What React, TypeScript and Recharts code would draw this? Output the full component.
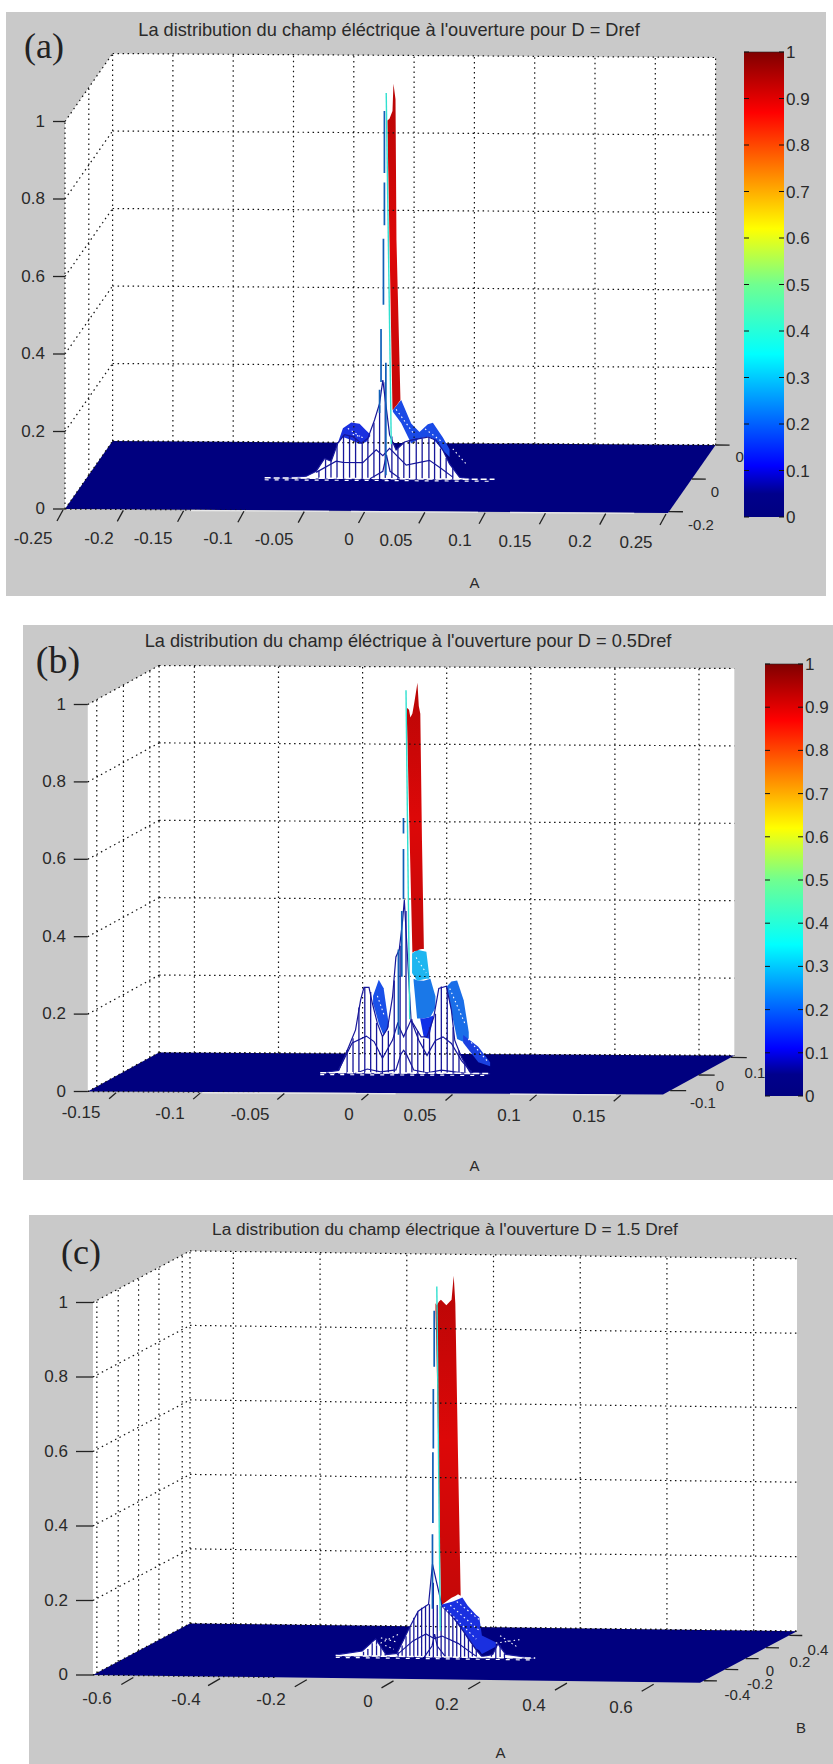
import { Area, ComposedChart, Line, XAxis, YAxis } from 'recharts'

// values: A and z of the centre cut through each surface
const zTicks = [0, 0.2, 0.4, 0.6, 0.8, 1]
const colorTicks = [0, 0.1, 0.2, 0.3, 0.4, 0.5, 0.6, 0.7, 0.8, 0.9, 1]
const jetValues = [0, 0.05, 0.11, 0.35, 0.5, 0.62, 0.87, 1]
const jetColors = ['#000080', '#00008c', '#0000ff', '#00ffff', '#70ff90', '#ffff00', '#ff0000', '#800000']

// panel a
const aTicksA = [-0.25, -0.2, -0.15, -0.1, -0.05, 0, 0.05, 0.1, 0.15, 0.2, 0.25]
const aTickLabels = ['-0.25', '-0.2', '-0.15', '-0.1', '-0.05', '0', '0.05', '0.1', '0.15', '0.2', '0.25']
const aWallB = [0, 0.5, 1]
const aFrontA = [-0.103, -0.0907, -0.0685, -0.0603, -0.0533, -0.0478, -0.0423, -0.0368, -0.0298, -0.0229, -0.0174, -0.0119, -0.0077, -0.005, 0.0006, 0.006, 0.013, 0.0185, 0.0254, 0.0323, 0.0392, 0.0448, 0.0503, 0.0586, 0.0697, 0.0876]
const aFrontZ = [0, 0, 0.006, 0.019, 0.052, 0.045, 0.092, 0.114, 0.109, 0.092, 0.105, 0.152, 0.195, 0.255, 0.114, 0.075, 0.096, 0.101, 0.105, 0.109, 0.101, 0.075, 0.04, 0.006, 0, 0]
const aMidA = [-0.0603, -0.0437, -0.0381, -0.0216, -0.0105, -0.005, 0.0006, 0.0144, 0.0337, 0.0434, 0.053]
const aMidZ = [0.016, 0.045, 0.042, 0.042, 0.075, 0.06, 0.079, 0.036, 0.049, 0.028, 0.006]
const aLowA = [-0.016, -0.005, -0.002, 0.001, 0.01]
const aLowZ = [0, 0.02, 0.062, 0.02, 0]
const aHatchA = [-0.058, -0.0525, -0.048, -0.043, -0.0376, -0.0326, -0.0276, -0.0221, -0.0174, -0.0124, -0.0077, -0.003, 0.0025, 0.0075, 0.0124, 0.0171, 0.0227, 0.0276, 0.0332, 0.0379, 0.0428, 0.0475, 0.053]
const aHatchZ = [0.02, 0.05, 0.045, 0.09, 0.112, 0.11, 0.105, 0.095, 0.105, 0.145, 0.19, 0.25, 0.11, 0.08, 0.095, 0.1, 0.105, 0.105, 0.108, 0.102, 0.08, 0.055, 0.03]
const aRedA = [-0.0012, 0.0005, 0.003, 0.0038, 0.0055, 0.0063, 0.0096]
const aRedLow = [0.919, 0.617, 0.178, 0.18, 0.187, 0.19, 0.204]
const aRedHigh = [0.925, 0.93, 0.95, 1.02, 0.98, 0.617, 0.204]
const aLobeLeftA = [-0.0423, -0.0381, -0.0312, -0.0243, -0.0188, -0.0155]
const aLobeLeftLow = [0.092, 0.108, 0.1, 0.09, 0.095, 0.11]
const aLobeLeftHigh = [0.092, 0.13, 0.145, 0.142, 0.125, 0.115]
const aLobeRightA = [0.0033, 0.0102, 0.0185, 0.0254, 0.0323, 0.0365, 0.0448, 0.0503]
const aLobeRightLow = [0.174, 0.145, 0.092, 0.105, 0.11, 0.105, 0.075, 0.058]
const aLobeRightHigh = [0.178, 0.204, 0.144, 0.122, 0.142, 0.146, 0.108, 0.078]
const aStreakA = [-0.0037, -0.0037, null, -0.0037, -0.0037, null, -0.0045, -0.0045, null, -0.0065, -0.0065, null, -0.0077, -0.0077, null, -0.0025, -0.0025]
const aStreakZ = [0.79, 0.95, null, 0.655, 0.765, null, 0.45, 0.62, null, 0.25, 0.387, null, 0.17, 0.23, null, 0.01, 0.3]
const aCyanA = [-0.0022, 0.002]
const aCyanZ = [0.996, 0.09]
const aSpeckA = [0.006, 0.02, null, 0.03, 0.045, null, -0.034, -0.024, null, -0.03, -0.02, null, 0.053, 0.0641]
const aSpeckZ = [0.18, 0.12, null, 0.13, 0.095, null, 0.13, 0.11, null, 0.115, 0.105, null, 0.079, 0.04]
const aEdgeA = [-0.1455, -0.031, null, -0.0129, 0.0925, null, 0.119, 0.222]

// panel b
const bTicksA = [-0.15, -0.1, -0.05, 0, 0.05, 0.1, 0.15]
const bTickLabels = ['-0.15', '-0.1', '-0.05', '0', '0.05', '0.1', '0.15']
const bWallB = [0.126, 0.5, 0.87]
const bFrontA = [-0.054, -0.043, -0.037, -0.033, -0.03, -0.028, -0.025, -0.023, -0.02, -0.017, -0.014, -0.011, -0.009, -0.007, -0.005, -0.004, 0, 0.006, 0.0095, 0.0135, 0.0165, 0.021, 0.024, 0.026, 0.03, 0.035, 0.047]
const bFrontZ = [0, 0.007, 0.069, 0.112, 0.189, 0.222, 0.222, 0.181, 0.129, 0.095, 0.116, 0.198, 0.301, 0.32, 0.396, 0.448, 0.138, 0.095, 0.095, 0.146, 0.22, 0.226, 0.164, 0.086, 0.043, 0.004, 0]
const bMidA = [-0.043, -0.035, -0.0266, -0.022, -0.017, -0.011, -0.008, -0.0044, 0, 0.0046, 0.0095, 0.0145, 0.019, 0.024, 0.03, 0.036]
const bMidZ = [0.009, 0.078, 0.096, 0.082, 0.039, 0.086, 0.129, 0.095, 0.138, 0.086, 0.047, 0.086, 0.095, 0.078, 0.034, 0.004]
const bLowA = [-0.033, -0.026, -0.018, -0.009, -0.006, -0.0044, -0.0028, 0.0016, 0.0095, 0.018, 0.027, 0.035]
const bLowZ = [0, 0.011, 0.004, 0.009, 0.05, 0.06, 0.05, 0.009, 0.002, 0.009, 0.004, 0]
const bHatchA = [-0.038, -0.0345, -0.031, -0.0275, -0.024, -0.0205, -0.017, -0.0135, -0.01, -0.0065, -0.003, 0.0005, 0.004, 0.0075, 0.011, 0.0145, 0.018, 0.0215, 0.025, 0.0285, 0.032, 0.0355]
const bHatchZ = [0.06, 0.09, 0.17, 0.222, 0.21, 0.13, 0.095, 0.11, 0.24, 0.33, 0.42, 0.14, 0.11, 0.09, 0.12, 0.155, 0.225, 0.22, 0.12, 0.06, 0.03, 0.01]
const bRedA = [-0.0025, -0.0012, -0.0004, 0.0008, 0.002, 0.0038, 0.0046, 0.0055, 0.0065, 0.0076]
const bRedLow = [0.924, 0.68, 0.53, 0.312, 0.316, 0.318, 0.32, 0.321, 0.322, 0.322]
const bRedHigh = [0.945, 0.94, 0.92, 0.93, 0.96, 1.01, 0.95, 0.93, 0.6, 0.33]
const bLobeLeftA = [-0.0226, -0.0192, -0.0163, -0.0133]
const bLobeLeftLow = [0.181, 0.129, 0.098, 0.12]
const bLobeLeftHigh = [0.2, 0.242, 0.22, 0.129]
const bCyanBandA = [0.0006, 0.0036, 0.0091, 0.0109]
const bCyanBandLow = [0.26, 0.24, 0.245, 0.245]
const bCyanBandHigh = [0.31, 0.32, 0.315, 0.25]
const bMidBandA = [0.0015, 0.0036, 0.0075, 0.0115, 0.0145]
const bMidBandLow = [0.24, 0.142, 0.142, 0.146, 0.17]
const bMidBandHigh = [0.245, 0.241, 0.24, 0.245, 0.2]
const bDeepBandA = [0.0055, 0.0075, 0.0105, 0.0131]
const bDeepBandLow = [0.14, 0.095, 0.09, 0.14]
const bDeepBandHigh = [0.143, 0.142, 0.145, 0.15]
const bLobeRightA = [0.0214, 0.024, 0.0274, 0.0313, 0.0343]
const bLobeRightLow = [0.22, 0.16, 0.09, 0.082, 0.085]
const bLobeRightHigh = [0.226, 0.238, 0.241, 0.19, 0.108]
const bTailA = [0.031, 0.04, 0.047]
const bTailLow = [0.08, 0.03, 0.02]
const bTailHigh = [0.1, 0.07, 0.03]
const bStreakA = [-0.0045, -0.0045, null, -0.0045, -0.0045, null, -0.0055, -0.0055, null, -0.0075, -0.0075]
const bStreakZ = [0.62, 0.66, null, 0.45, 0.58, null, 0.25, 0.42, null, 0.1, 0.32]
const bCyanA = [-0.003, -0.0008]
const bCyanZ = [0.99, 0.14]
const bSpeckA = [0.023, 0.032, null, -0.02, -0.016, null, 0.034, 0.046, null, 0.003, 0.009]
const bSpeckZ = [0.22, 0.13, null, 0.2, 0.15, null, 0.09, 0.03, null, 0.3, 0.26]
const bEdgeA = [-0.103, -0.0115, null, -0.024, 0.012, null, 0.08, 0.143]

// panel c
const cTicksA = [-0.6, -0.4, -0.2, 0, 0.2, 0.4, 0.6]
const cTickLabels = ['-0.6', '-0.4', '-0.2', '0', '0.2', '0.4', '0.6']
const cWallB = [0.04, 0.26, 0.47, 0.68, 0.92]
const cFrontA = [-0.234, -0.173, -0.142, -0.118, -0.093, -0.063, -0.044, -0.02, -0.011, 0.011, 0.036, 0.06, 0.091, 0.103, 0.128, 0.14, 0.158, 0.226]
const cFrontZ = [0.003, 0.014, 0.047, 0.005, 0.009, 0.081, 0.123, 0.142, 0.25, 0.137, 0.109, 0.071, 0.019, 0.003, 0.009, 0.038, 0.01, 0]
const cMidA = [-0.093, -0.056, -0.026, -0.007, 0.011, 0.048, 0.091]
const cMidZ = [0.005, 0.043, 0.062, 0.05, 0.057, 0.038, 0.003]
const cLowA = [-0.03, -0.012, -0.006, 0, 0.02]
const cLowZ = [0, 0.03, 0.062, 0.03, 0]
const cHatchA = [-0.17, -0.16, -0.15, -0.14, -0.13, -0.12, -0.09, -0.081, -0.072, -0.063, -0.054, -0.045, -0.036, -0.027, -0.018, -0.009, 0, 0.009, 0.018, 0.027, 0.036, 0.045, 0.054, 0.063, 0.072, 0.081, 0.09, 0.125, 0.135, 0.145, 0.155]
const cHatchZ = [0.012, 0.02, 0.035, 0.045, 0.03, 0.008, 0.012, 0.03, 0.055, 0.08, 0.105, 0.122, 0.132, 0.138, 0.142, 0.2, 0.14, 0.137, 0.13, 0.12, 0.11, 0.095, 0.08, 0.065, 0.05, 0.035, 0.02, 0.01, 0.03, 0.035, 0.012]
const cRedA = [-0.004, -0.001, 0.004, 0.0086, 0.021, 0.033, 0.038, 0.0417, 0.048, 0.054]
const cRedLow = [0.93, 0.775, 0.457, 0.139, 0.15, 0.16, 0.163, 0.165, 0.17, 0.166]
const cRedHigh = [0.95, 0.945, 0.955, 0.96, 0.945, 0.96, 1.025, 0.95, 0.536, 0.17]
const cLobeRightA = [0.011, 0.036, 0.058, 0.07, 0.09, 0.097, 0.103, 0.135]
const cLobeRightLow = [0.137, 0.106, 0.075, 0.05, 0.024, 0.02, 0.01, 0.03]
const cLobeRightHigh = [0.142, 0.15, 0.161, 0.14, 0.115, 0.109, 0.06, 0.042]
const cStreakA = [-0.007, -0.007, null, -0.009, -0.009, null, -0.01, -0.01, null, -0.011, -0.011]
const cStreakZ = [0.78, 0.93, null, 0.56, 0.72, null, 0.36, 0.55, null, 0.13, 0.33]
const cCyanA = [-0.001, 0.007]
const cCyanZ = [0.995, 0.071]
const cSpeckA = [0.015, 0.09, null, 0.03, 0.1, null, 0.045, 0.105, null, -0.14, -0.09, null, -0.13, -0.095, null, 0.135, 0.19, null, 0.145, 0.185, null, -0.12, -0.1]
const cSpeckZ = [0.135, 0.05, null, 0.14, 0.07, null, 0.15, 0.095, null, 0.03, 0.06, null, 0.05, 0.04, null, 0.04, 0.05, null, 0.06, 0.03, null, 0.03, 0.02]
const cEdgeA: (number | null)[] = []

type Band = { a: number[]; low: number[]; high: number[]; fill: string }
type PanelProps = {
  id: string
  letter: string
  title: string
  box: { left: number; top: number; width: number; height: number }
  titleBox: { x: number; y: number; size: number }
  letterBox: { x: number; y: number; size: number }
  axisLabels: { text: string; x: number; y: number }[]
  front: { x0: number; aScale: number; y0: number; zScale: number; skewX: number; skewY: number; tilt: number; aMin: number; aMax: number; plane: number }
  ticksA: number[]
  tickLabels: string[]
  labelX: number[]
  labelY: number[]
  tickFrom: number[]
  tickTo: number[]
  zLabelRight: number
  zTickLen: number
  wallB: number[]
  tickB: number[]
  bTickLen: number
  bLabels: { text: string; x: number; y: number }[]
  frontA: number[]
  frontZ: number[]
  midA: number[]
  midZ: number[]
  lowA: number[]
  lowZ: number[]
  hatchA: number[]
  hatchZ: number[]
  red: { a: number[]; low: number[]; high: number[] }
  bands: Band[]
  streakA: (number | null)[]
  streakZ: (number | null)[]
  cyanA: number[]
  cyanZ: number[]
  speckA: (number | null)[]
  speckZ: (number | null)[]
  edgeA: (number | null)[]
  baseA: number[]
}

const FONT = '"Liberation Sans", Arial, sans-serif'
const TEXT = '#2a2a2a'
const NAVY = '#00007f'
const MESH = '#17179a'

function Colorbar({ id, left, top, width, height }: { id: string; left: number; top: number; width: number; height: number }) {
  const pad = 12
  return (
    <div style={{ position: 'absolute', left, top: top - pad }}>
      <ComposedChart width={width + 50} height={height + pad * 2} data={[{ x: 0, v: 1 }, { x: 1, v: 1 }]} margin={{ top: pad, bottom: pad, left: 0, right: 0 }}>
        <defs>
          <linearGradient id={id} x1="0" y1="1" x2="0" y2="0">
            {jetValues.map((v, i) => (
              <stop key={v} offset={v} stopColor={jetColors[i]} />
            ))}
          </linearGradient>
        </defs>
        <XAxis type="number" dataKey="x" domain={[0, 1]} hide />
        <YAxis
          orientation="right"
          width={50}
          domain={[0, 1]}
          ticks={colorTicks}
          interval={0}
          axisLine={false}
          tickLine={false}
          tickSize={0}
          tickMargin={0}
          tick={(p: any) => (
            <g>
              <line x1={p.x - 5} x2={p.x} y1={p.y} y2={p.y} stroke="#111" />
              <line x1={p.x - width} x2={p.x - width + 5} y1={p.y} y2={p.y} stroke="#111" />
              <text x={p.x + 2} y={p.y + 6} fontSize={17} fontFamily={FONT} fill={TEXT}>
                {p.payload.value}
              </text>
            </g>
          )}
        />
        <Area dataKey="v" baseValue={0} stroke="#222" strokeWidth={0.6} fill={`url(#${id})`} fillOpacity={1} isAnimationActive={false} dot={false} activeDot={false} />
      </ComposedChart>
    </div>
  )
}

function Panel(p: PanelProps) {
  const { box, front: f } = p
  const tiltAt = (a: number) => ((a - f.aMin) / (f.aMax - f.aMin)) * f.tilt
  // chart units: x is A on the front edge, y is z on the front-left corner; depth shifts both
  const project = (a: number, b: number, z: number) => ({
    x: a + (b * f.skewX) / f.aScale,
    y: z + (b * f.skewY) / f.zScale - tiltAt(a) / f.zScale,
  })
  const xDomain = [(box.left - f.x0) / f.aScale, (box.left + box.width - f.x0) / f.aScale]
  const yDomain = [(f.y0 - (box.top + box.height)) / f.zScale, (f.y0 - box.top) / f.zScale]
  const flPx = f.x0 + f.aMin * f.aScale - box.left

  const segs = (list: [number, number, number][][]) => {
    const out: { x: number; y: number | null }[] = []
    list.forEach((pts) => {
      pts.forEach(([a, b, z]) => out.push(project(a, b, z)))
      const last = project(pts[pts.length - 1][0], pts[pts.length - 1][1], pts[pts.length - 1][2])
      out.push({ x: last.x, y: null })
    })
    return out
  }
  const cut = (as: (number | null)[], zs: (number | null)[]) =>
    as.map((a, i) => {
      if (a === null || zs[i] === null) {
        const prev = as[i - 1] as number
        return { x: project(prev, f.plane, 0).x, y: null }
      }
      return project(a, f.plane, zs[i] as number)
    })
  const band = (as: number[], lows: number[], highs: number[]) =>
    as.map((a, i) => {
      const lo = project(a, f.plane, lows[i])
      const hi = project(a, f.plane, highs[i])
      return { x: lo.x, range: [lo.y, hi.y] }
    })

  const skewA = f.skewX / f.aScale
  const blA = f.aMin + skewA
  const wall = [
    { x: f.aMin, range: [project(f.aMin, 0, 0).y, project(f.aMin, 0, 1).y] },
    { x: blA, range: [project(f.aMin, 1, 0).y, project(f.aMin, 1, 1).y] },
    { x: f.aMax + skewA, range: [project(f.aMax, 1, 0).y, project(f.aMax, 1, 1).y] },
  ]
  const floor = [
    { x: f.aMin, range: [project(f.aMin, 0, 0).y, project(f.aMin, 0, 0).y] },
    { x: blA, range: [project(blA, 0, 0).y, project(f.aMin, 1, 0).y] },
    { x: f.aMax, range: [project(f.aMax, 0, 0).y, project(f.aMax - skewA, 1, 0).y] },
    { x: f.aMax + skewA, range: [project(f.aMax, 1, 0).y, project(f.aMax, 1, 0).y] },
  ]
  const grid = segs([
    ...p.ticksA.map((a) => [[a, 1, 0], [a, 1, 1]] as [number, number, number][]),
    ...zTicks.map((z) => [[f.aMin, 1, z], [f.aMax, 1, z]] as [number, number, number][]),
    ...zTicks.map((z) => [[f.aMin, 0, z], [f.aMin, 1, z]] as [number, number, number][]),
    ...p.wallB.map((b) => [[f.aMin, b, 0], [f.aMin, b, 1]] as [number, number, number][]),
    [[f.aMin, 1, 0], [f.aMin, 1, 1]],
  ])
  const floorGrid = segs([
    [[f.aMin, 0, 0], [f.aMin + (f.aMax - f.aMin) * 0.3, 0, 0]],
    [[f.aMin, 1, 0], [f.aMax, 1, 0]],
  ])
  const bTickMarks = segs(p.tickB.map((b) => [[f.aMax, b, 0], [f.aMax + p.bTickLen / f.aScale, b, 0]] as [number, number, number][]))
  const hatch = segs(p.hatchA.map((a, i) => [[a, f.plane, 0], [a, f.plane, p.hatchZ[i]]] as [number, number, number][]))
  const edge = p.edgeA.map((a, i) => {
    if (a === null) return { x: p.edgeA[i - 1] as number, y: null }
    return { x: a, y: project(a, 0, 0).y - 0.6 / f.zScale }
  })
  const baseDash = p.baseA.map((a) => project(a, f.plane, 0.001))
  const baseDash2 = p.baseA.map((a) => project(a, f.plane, -0.004))
  const line = { isAnimationActive: false, dot: false, activeDot: false, dataKey: 'y', type: 'linear' as const }
  const fillArea = { isAnimationActive: false, dot: false, activeDot: false, dataKey: 'range', type: 'linear' as const, stroke: 'none' }

  return (
    <div style={{ position: 'absolute', left: box.left, top: box.top, width: box.width, height: box.height, background: '#c9c9c9' }}>
      <ComposedChart width={box.width} height={box.height} margin={{ top: 0, right: 0, bottom: -1, left: -1 }}>
        <defs>
          <linearGradient id={`red-${p.id}`} x1="0" y1="0" x2="0" y2="1">
            <stop offset={0} stopColor="#b80606" />
            <stop offset={0.5} stopColor="#dd0808" />
            <stop offset={1} stopColor="#c40808" />
          </linearGradient>
        </defs>
        <XAxis
          type="number"
          dataKey="x"
          scale="linear"
          domain={xDomain}
          allowDataOverflow
          height={1}
          ticks={p.ticksA}
          interval={0}
          axisLine={false}
          tickLine={false}
          tick={(t: any) => {
            const y = f.y0 + tiltAt(t.payload.value) - box.top
            return (
              <g>
                <line x1={t.x + p.tickFrom[0]} y1={y + p.tickFrom[1]} x2={t.x + p.tickTo[0]} y2={y + p.tickTo[1]} stroke="#222" strokeWidth={1.3} />
                <text x={p.labelX[t.index] - box.left} y={p.labelY[t.index] - box.top + 6} textAnchor="middle" fontSize={17} fontFamily={FONT} fill={TEXT}>
                  {p.tickLabels[t.index]}
                </text>
              </g>
            )
          }}
        />
        <YAxis
          type="number"
          scale="linear"
          domain={yDomain}
          allowDataOverflow
          width={1}
          ticks={zTicks}
          interval={0}
          axisLine={false}
          tickLine={false}
          tick={(t: any) => (
            <g>
              <line x1={flPx - p.zTickLen} x2={flPx} y1={t.y} y2={t.y} stroke="#222" strokeWidth={1.3} />
              <text x={p.zLabelRight - box.left} y={t.y + 5} textAnchor="end" fontSize={17} fontFamily={FONT} fill={TEXT}>
                {t.payload.value}
              </text>
            </g>
          )}
        />
        <Area {...fillArea} data={wall} fill="#ffffff" fillOpacity={1} />
        <Line {...line} data={grid} stroke="#111" strokeWidth={1.2} strokeDasharray="1.5 3.5" />
        <Area {...fillArea} data={floor} fill={NAVY} fillOpacity={1} />
        <Line {...line} data={floorGrid} stroke="#111" strokeWidth={1.2} strokeDasharray="1.5 3.5" />
        <Line {...line} data={edge} stroke="#e8e8e8" strokeWidth={1.4} />
        <Line {...line} data={bTickMarks} stroke="#222" strokeWidth={1.3} />
        <Area {...fillArea} data={band(p.frontA, p.frontA.map(() => 0), p.frontZ)} fill="#ffffff" fillOpacity={1} />
        <Line {...line} data={hatch} stroke={MESH} strokeWidth={1.3} />
        <Line {...line} data={cut(p.frontA, p.frontZ)} stroke={MESH} strokeWidth={1.2} />
        <Line {...line} data={cut(p.midA, p.midZ)} stroke={MESH} strokeWidth={1.2} />
        <Line {...line} data={cut(p.lowA, p.lowZ)} stroke={MESH} strokeWidth={1.2} />
        <Line {...line} data={baseDash} stroke="#ffffff" strokeWidth={1.5} strokeDasharray="6 3" />
        <Line {...line} data={baseDash2} stroke="#ffffff" strokeWidth={1.2} strokeDasharray="4 6" />
        {p.bands.map((b, i) => (
          <Area key={i} {...fillArea} data={band(b.a, b.low, b.high)} fill={b.fill} fillOpacity={1} />
        ))}
        <Line {...line} data={cut(p.speckA, p.speckZ)} stroke="#ffffff" strokeWidth={1.1} strokeDasharray="1.5 3" />
        <Area {...fillArea} data={band(p.red.a, p.red.low, p.red.high)} fill={`url(#red-${p.id})`} fillOpacity={1} />
        <Line {...line} data={cut(p.streakA, p.streakZ)} stroke="#1060b8" strokeWidth={1.7} />
        <Line {...line} data={cut(p.cyanA, p.cyanZ)} stroke="#30e0d0" strokeWidth={1.4} />
      </ComposedChart>
      <div style={{ position: 'absolute', left: p.titleBox.x - box.left - 300, top: p.titleBox.y - box.top - 12, width: 600, textAlign: 'center', fontFamily: FONT, fontSize: p.titleBox.size, lineHeight: '24px', color: TEXT, whiteSpace: 'nowrap' }}>
        {p.title}
      </div>
      <div style={{ position: 'absolute', left: p.letterBox.x - box.left - 40, top: p.letterBox.y - box.top - 25, width: 80, textAlign: 'center', fontFamily: '"Liberation Serif", serif', fontSize: p.letterBox.size, lineHeight: '50px', color: '#222' }}>
        {p.letter}
      </div>
      {[...p.axisLabels, ...p.bLabels].map((l) => (
        <div key={l.text + l.x} style={{ position: 'absolute', left: l.x - box.left - 30, top: l.y - box.top - 7, width: 60, textAlign: 'center', fontFamily: FONT, fontSize: 15, lineHeight: '14px', color: TEXT }}>
          {l.text}
        </div>
      ))}
    </div>
  )
}

export default function App() {
  return (
    <div style={{ position: 'absolute', left: 0, top: 0, width: 833, height: 1764, background: '#fff', overflow: 'hidden' }}>
      <Panel
        id="a"
        letter="(a)"
        title="La distribution du champ éléctrique à l'ouverture pour D = Dref"
        box={{ left: 6, top: 12, width: 820, height: 584 }}
        titleBox={{ x: 389, y: 30, size: 18.2 }}
        letterBox={{ x: 44, y: 46, size: 36 }}
        axisLabels={[{ text: 'A', x: 474.5, y: 583 }]}
        front={{ x0: 366.5, aScale: 1206, y0: 509, zScale: 387.5, skewX: 47.6, skewY: 68, tilt: 4, aMin: -0.25, aMax: 0.25, plane: 0.47 }}
        ticksA={aTicksA}
        tickLabels={aTickLabels}
        labelX={[33, 99, 153, 218, 274, 349, 396, 460, 515, 580, 636]}
        labelY={[537.7, 537.7, 537.7, 538, 538.5, 539, 539.5, 540, 540.5, 541, 541.5]}
        tickFrom={[-2, 1]}
        tickTo={[-8, 12]}
        zLabelRight={45}
        zTickLen={12}
        wallB={aWallB}
        tickB={[0.02, 0.5, 1]}
        bTickLen={14}
        bLabels={[
          { text: '-0.2', x: 701, y: 525 },
          { text: '0', x: 715, y: 492 },
          { text: '0.2', x: 746, y: 457 },
        ]}
        frontA={aFrontA}
        frontZ={aFrontZ}
        midA={aMidA}
        midZ={aMidZ}
        lowA={aLowA}
        lowZ={aLowZ}
        hatchA={aHatchA}
        hatchZ={aHatchZ}
        red={{ a: aRedA, low: aRedLow, high: aRedHigh }}
        bands={[
          { a: aLobeLeftA, low: aLobeLeftLow, high: aLobeLeftHigh, fill: '#1a30e0' },
          { a: aLobeRightA, low: aLobeRightLow, high: aLobeRightHigh, fill: '#1a4ae6' },
        ]}
        streakA={aStreakA}
        streakZ={aStreakZ}
        cyanA={aCyanA}
        cyanZ={aCyanZ}
        speckA={aSpeckA}
        speckZ={aSpeckZ}
        edgeA={aEdgeA}
        baseA={[aFrontA[0], aFrontA[aFrontA.length - 1]]}
      />
      <Colorbar id="jet-a" left={744} top={52} width={40} height={465} />

      <Panel
        id="b"
        letter="(b)"
        title="La distribution du champ éléctrique à l'ouverture pour D = 0.5Dref"
        box={{ left: 23, top: 625, width: 810, height: 555 }}
        titleBox={{ x: 408, y: 641, size: 18.2 }}
        letterBox={{ x: 58, y: 660, size: 38 }}
        axisLabels={[{ text: 'A', x: 474.5, y: 1166 }]}
        front={{ x0: 375.4, aScale: 1682, y0: 1091.5, zScale: 387, skewX: 71.3, skewY: 39, tilt: 3, aMin: -0.171, aMax: 0.171, plane: 0.5 }}
        ticksA={bTicksA}
        tickLabels={bTickLabels}
        labelX={[81, 170, 250, 349, 420, 509, 589]}
        labelY={[1111.5, 1113, 1113.6, 1113.6, 1115, 1115, 1116]}
        tickFrom={[-7, 1]}
        tickTo={[-14, 7]}
        zLabelRight={66}
        zTickLen={14}
        wallB={bWallB}
        tickB={[0.1, 0.5, 0.95]}
        bTickLen={16}
        bLabels={[
          { text: '-0.1', x: 703, y: 1102.7 },
          { text: '0', x: 720, y: 1086 },
          { text: '0.1', x: 755, y: 1072.6 },
        ]}
        frontA={bFrontA}
        frontZ={bFrontZ}
        midA={bMidA}
        midZ={bMidZ}
        lowA={bLowA}
        lowZ={bLowZ}
        hatchA={bHatchA}
        hatchZ={bHatchZ}
        red={{ a: bRedA, low: bRedLow, high: bRedHigh }}
        bands={[
          { a: bLobeLeftA, low: bLobeLeftLow, high: bLobeLeftHigh, fill: '#1a50e8' },
          { a: bMidBandA, low: bMidBandLow, high: bMidBandHigh, fill: '#1a78e8' },
          { a: bCyanBandA, low: bCyanBandLow, high: bCyanBandHigh, fill: '#1eb6f0' },
          { a: bDeepBandA, low: bDeepBandLow, high: bDeepBandHigh, fill: '#1030e8' },
          { a: bLobeRightA, low: bLobeRightLow, high: bLobeRightHigh, fill: '#1a6ee8' },
          { a: bTailA, low: bTailLow, high: bTailHigh, fill: '#1a40e0' },
        ]}
        streakA={bStreakA}
        streakZ={bStreakZ}
        cyanA={bCyanA}
        cyanZ={bCyanZ}
        speckA={bSpeckA}
        speckZ={bSpeckZ}
        edgeA={bEdgeA}
        baseA={[bFrontA[0], bFrontA[bFrontA.length - 1]]}
      />
      <Colorbar id="jet-b" left={765} top={664} width={38} height={432} />

      <Panel
        id="c"
        letter="(c)"
        title="La distribution du champ électrique à l'ouverture D = 1.5 Dref"
        box={{ left: 29, top: 1215, width: 804, height: 549 }}
        titleBox={{ x: 445, y: 1229.4, size: 17.3 }}
        letterBox={{ x: 81, y: 1252, size: 36 }}
        axisLabels={[
          { text: 'B', x: 801, y: 1727.7 },
          { text: 'A', x: 500.5, y: 1753 },
        ]}
        front={{ x0: 396.5, aScale: 433.6, y0: 1675, zScale: 372.5, skewX: 97, skewY: 51.6, tilt: 7.8, aMin: -0.7, aMax: 0.7, plane: 0.42 }}
        ticksA={cTicksA}
        tickLabels={cTickLabels}
        labelX={[97, 186, 271, 368, 447, 534, 621]}
        labelY={[1698, 1699, 1699, 1701, 1704, 1705, 1706.5]}
        tickFrom={[-3, 2]}
        tickTo={[-15, 9]}
        zLabelRight={68}
        zTickLen={17}
        wallB={cWallB}
        tickB={[0.04, 0.26, 0.47, 0.68, 0.92]}
        bTickLen={13}
        bLabels={[
          { text: '-0.4', x: 737.5, y: 1695 },
          { text: '-0.2', x: 760, y: 1683.5 },
          { text: '0', x: 770, y: 1671 },
          { text: '0.2', x: 800, y: 1661.6 },
          { text: '0.4', x: 818, y: 1650 },
        ]}
        frontA={cFrontA}
        frontZ={cFrontZ}
        midA={cMidA}
        midZ={cMidZ}
        lowA={cLowA}
        lowZ={cLowZ}
        hatchA={cHatchA}
        hatchZ={cHatchZ}
        red={{ a: cRedA, low: cRedLow, high: cRedHigh }}
        bands={[{ a: cLobeRightA, low: cLobeRightLow, high: cLobeRightHigh, fill: '#1a30e0' }]}
        streakA={cStreakA}
        streakZ={cStreakZ}
        cyanA={cCyanA}
        cyanZ={cCyanZ}
        speckA={cSpeckA}
        speckZ={cSpeckZ}
        edgeA={cEdgeA}
        baseA={[cFrontA[0], cFrontA[cFrontA.length - 1]]}
      />
    </div>
  )
}
